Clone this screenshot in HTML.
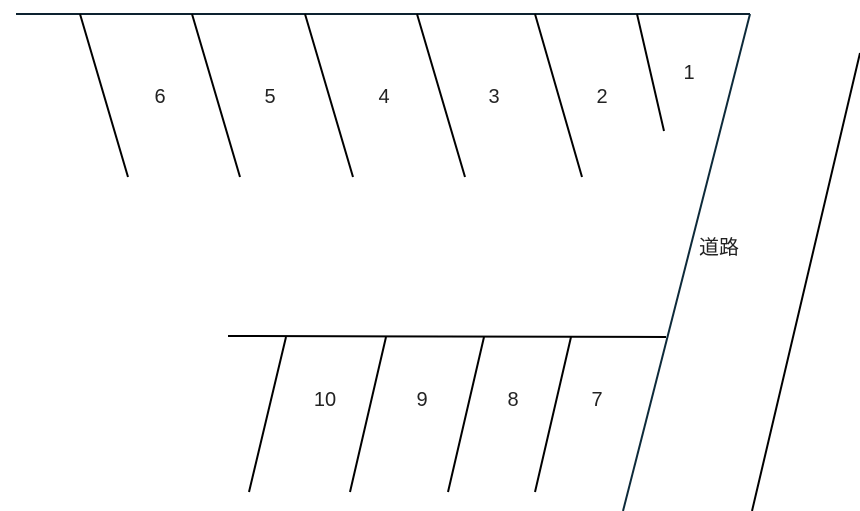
<!DOCTYPE html>
<html><head><meta charset="utf-8"><style>
html,body{margin:0;padding:0;background:#fff;}
svg{display:block;}
text{font-family:"Liberation Sans","Noto Sans CJK JP",sans-serif;font-size:20px;fill:#222;text-anchor:middle;dominant-baseline:central;}
</style></head><body>
<svg width="860" height="511" viewBox="0 0 860 511">
<g stroke="#000" stroke-width="2" fill="none">
<line x1="16" y1="14" x2="750" y2="14" stroke="#0d2230"/>
<line x1="80" y1="14" x2="128" y2="177"/>
<line x1="192" y1="14" x2="240" y2="177"/>
<line x1="305" y1="14" x2="353" y2="177"/>
<line x1="417" y1="14" x2="465" y2="177"/>
<line x1="535" y1="14" x2="582" y2="177"/>
<line x1="637" y1="14" x2="664" y2="131"/>
<line x1="228" y1="336" x2="666" y2="337"/>
<line x1="286" y1="337" x2="249" y2="492"/>
<line x1="386" y1="337" x2="350" y2="492"/>
<line x1="484" y1="337" x2="448" y2="492"/>
<line x1="571" y1="337" x2="535" y2="492"/>
<line x1="750" y1="14" x2="623" y2="511" stroke="#0d2a3a"/>
<line x1="860" y1="53" x2="752" y2="511"/>
</g>
<text x="160" y="97">6</text>
<text x="270" y="97">5</text>
<text x="384" y="97">4</text>
<text x="494" y="97">3</text>
<text x="602" y="97">2</text>
<text x="689" y="73">1</text>
<text x="325" y="400">10</text>
<text x="422" y="400">9</text>
<text x="513" y="400">8</text>
<text x="597" y="400">7</text>
<text x="719" y="248">道路</text>
</svg>
</body></html>
